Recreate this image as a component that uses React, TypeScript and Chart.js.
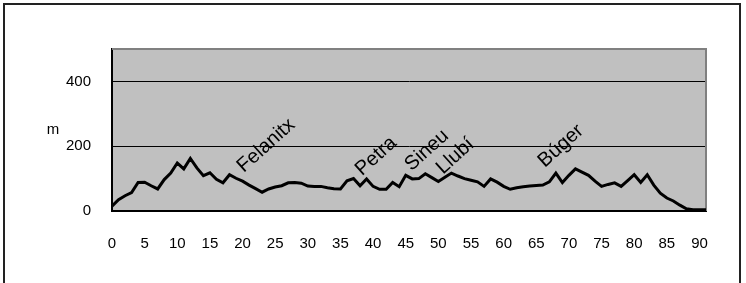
import React, { useEffect, useRef } from "react";
import { Chart, registerables } from "chart.js";

Chart.register(...registerables);

const kmValues = [
  0, 1, 2, 3, 4, 5, 6, 7, 8, 9, 10, 11, 12, 13, 14, 15, 16, 17, 18, 19, 20,
  21, 22, 23, 24, 25, 26, 27, 28, 29, 30, 31, 32, 33, 34, 35, 36, 37, 38, 39,
  40, 41, 42, 43, 44, 45, 46, 47, 48, 49, 50, 51, 52, 53, 54, 55, 56, 57, 58,
  59, 60, 61, 62, 63, 64, 65, 66, 67, 68, 69, 70, 71, 72, 73, 74, 75, 76, 77,
  78, 79, 80, 81, 82, 83, 84, 85, 86, 87, 88, 89, 90, 91,
];

const elevation = [
  15, 35, 47, 57, 88, 89, 78, 68, 97, 117, 148, 130, 162, 133, 109, 118, 98,
  87, 112, 101, 92, 80, 69, 58, 68, 74, 78, 87, 88, 86, 77, 76, 76, 72, 69, 68,
  93, 100, 78, 99, 76, 67, 67, 88, 75, 110, 99, 100, 115, 103, 91, 104, 117,
  108, 100, 95, 90, 76, 99, 89, 76, 67, 72, 75, 77, 79, 80, 90, 117, 88, 110,
  130, 120, 110, 92, 76, 82, 87, 76, 94, 112, 88, 112, 80, 55, 40, 31, 18, 7, 4,
  4, 4,
];

const townNames = ["Felanitx", "Petra", "Sineu", "Llubí", "Búger"];
const townKm = [20.2, 38.3, 45.9, 50.7, 66.3];
const townLabelAlt = [117, 107, 122, 112, 133];

const xTickValues = [0, 5, 10, 15, 20, 25, 30, 35, 40, 45, 50, 55, 60, 65, 70, 75, 80, 85, 90];
const yTickValues = [0, 200, 400];
const yAxisTitle = "m";

const FONT = '"Liberation Sans", Arial, sans-serif';

export default function App() {
  const canvasRef = useRef<HTMLCanvasElement | null>(null);

  useEffect(() => {
    const canvas = canvasRef.current;
    if (!canvas) return;

    const plotDecor = {
      id: "plotDecor",
      beforeDraw(chart: any) {
        const { ctx, chartArea: a } = chart;
        ctx.save();
        ctx.fillStyle = "#C0C0C0";
        ctx.fillRect(a.left, a.top, a.width, a.height);
        ctx.restore();
      },
      beforeDatasetsDraw(chart: any) {
        const { ctx, chartArea: a } = chart;
        ctx.save();
        ctx.strokeStyle = "#808080";
        ctx.lineWidth = 2;
        ctx.beginPath();
        ctx.moveTo(a.left, a.top);
        ctx.lineTo(a.right, a.top);
        ctx.lineTo(a.right, a.bottom);
        ctx.stroke();
        ctx.restore();
      },
      afterDatasetsDraw(chart: any) {
        const { ctx, chartArea: a } = chart;
        const xs = chart.scales.x;
        const ys = chart.scales.y;
        ctx.save();
        ctx.fillStyle = "#000";
        ctx.font = `20px ${FONT}`;
        ctx.textAlign = "left";
        ctx.textBaseline = "alphabetic";
        townNames.forEach((name, i) => {
          const px = xs.getPixelForValue(townKm[i]);
          const py = ys.getPixelForValue(townLabelAlt[i]);
          ctx.save();
          ctx.translate(px, py);
          ctx.rotate((-42 * Math.PI) / 180);
          ctx.fillText(name, 0, 0);
          ctx.restore();
        });
        ctx.font = `15px ${FONT}`;
        ctx.textAlign = "center";
        ctx.textBaseline = "middle";
        ctx.fillText(yAxisTitle, 53, (a.top + a.bottom) / 2);
        ctx.restore();
      },
    };

    const chart = new Chart(canvas, {
      type: "line",
      data: {
        datasets: [
          {
            data: kmValues.map((k, i) => ({ x: k, y: elevation[i] })),
            borderColor: "#000",
            borderWidth: 3,
            pointRadius: 0,
            tension: 0,
            fill: false,
          },
        ],
      },
      options: {
        animation: false,
        responsive: false,
        devicePixelRatio: 1,
        layout: { padding: { left: 0, right: 40, top: 49, bottom: 0 } },
        plugins: {
          legend: { display: false },
          tooltip: { enabled: false },
          title: { display: false },
        },
        scales: {
          x: {
            type: "linear",
            min: 0,
            max: 91,
            afterBuildTicks: (s: any) => {
              s.ticks = xTickValues.map((v) => ({ value: v }));
            },
            afterFit: (s: any) => {
              s.height = 72;
            },
            ticks: {
              autoSkip: false,
              maxRotation: 0,
              padding: 24,
              color: "#000",
              font: { family: FONT, size: 15 },
            },
            grid: { color: "rgba(0,0,0,0)", drawTicks: false },
            border: { display: true, color: "#000", width: 2 },
          },
          y: {
            min: 0,
            max: 500,
            afterBuildTicks: (s: any) => {
              s.ticks = yTickValues.map((v) => ({ value: v })).concat([{ value: 500 }]);
            },
            afterFit: (s: any) => {
              s.width = 112;
            },
            ticks: {
              padding: 21,
              color: "#000",
              font: { family: FONT, size: 15 },
              callback: (v: any) => (v === 500 ? "" : String(v)),
            },
            grid: {
              drawTicks: false,
              lineWidth: 1,
              color: (c: any) =>
                c.tick && (c.tick.value === 200 || c.tick.value === 400)
                  ? "#000"
                  : "rgba(0,0,0,0)",
            },
            border: { display: true, color: "#000", width: 2 },
          },
        },
      },
      plugins: [plotDecor],
    });

    return () => chart.destroy();
  }, []);

  return (
    <div
      style={{
        position: "absolute",
        left: 0,
        top: 0,
        width: 746,
        height: 283,
        overflow: "hidden",
        background: "#fff",
      }}
    >
      <div
        style={{
          position: "absolute",
          left: 3,
          top: 3,
          width: 738,
          height: 320,
          border: "2px solid #222",
          boxSizing: "border-box",
        }}
      />
      <canvas
        ref={canvasRef}
        width={746}
        height={283}
        style={{ position: "absolute", left: 0, top: 0, width: 746, height: 283 }}
      />
    </div>
  );
}
